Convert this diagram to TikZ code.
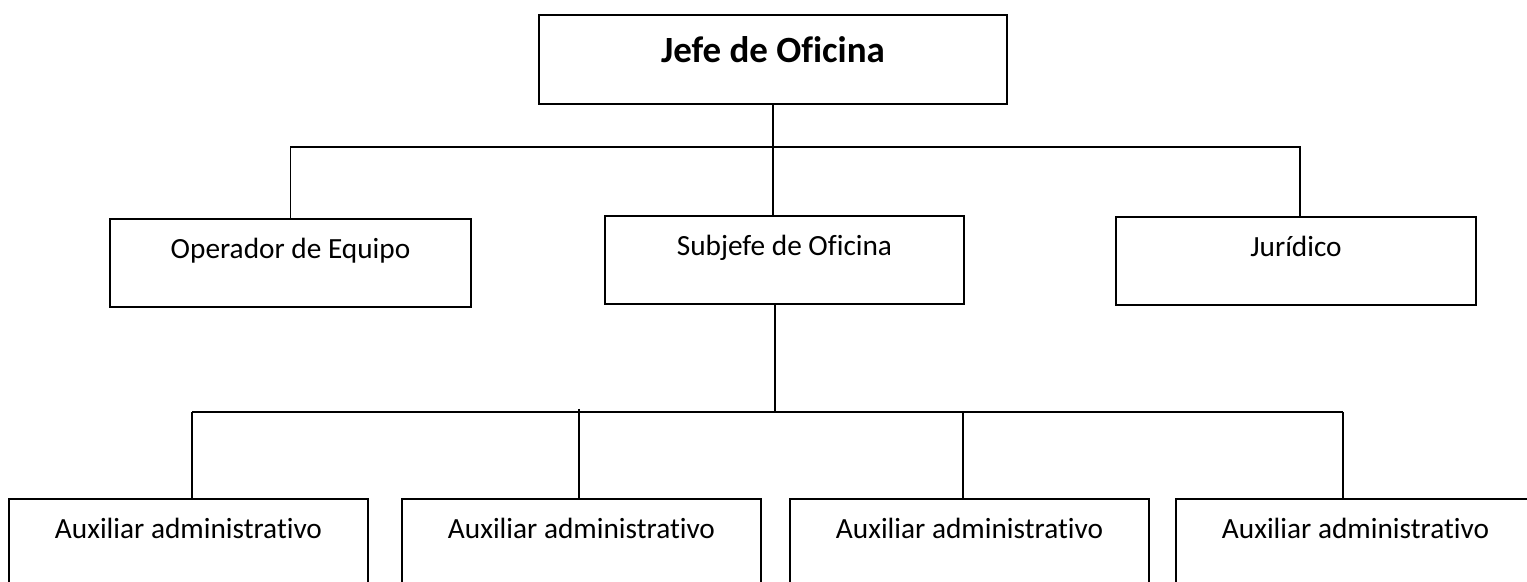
\documentclass[tikz,border=0pt]{standalone}
\usepackage{fontspec}
\setmainfont[Ligatures={NoCommon}]{Carlito}

\begin{document}
\begin{tikzpicture}[x=0.5pt,y=-0.5pt,
  box/.style={rectangle,draw,line width=1pt,inner sep=0pt,anchor=north,
    font=\fontsize{14.65}{17}\selectfont,text height=20pt,text depth=24pt},
  head/.style={box,font=\bfseries\fontsize{18.5}{22}\selectfont,text height=24pt,text depth=20.5pt},
  link/.style={draw,line width=0.65pt}]
\useasboundingbox (0,0) rectangle (1527,582);
\node [head,minimum width=234pt] (jefe) at (773,14) {Jefe de Oficina};
\node [box,minimum width=180.5pt] (operador) at (290.5,218) {Operador de Equipo};
\node [box,minimum width=179.5pt] (subjefe) at (784.5,215) {Subjefe de Oficina};
\node [box,minimum width=180pt] (juridico) at (1296,216) {Jurídico};
\foreach \x/\n in {188.5/1,581.5/2,969.5/3,1355.5/4}
  \node [box,minimum width=179.5pt] (aux\n) at (\x,498) {Auxiliar administrativo};
\coordinate (bus1) at (773,147);
\coordinate (bus2) at (775,412);
\coordinate (drop1) at (192,412);
\coordinate (drop2) at (579,409);
\coordinate (drop3) at (963,412);
\coordinate (drop4) at (1343,412);
\draw [link] (jefe.south) -- (jefe.south |- subjefe.north);
\draw [link] (operador.north) |- (bus1) -| ([xshift=2pt]juridico.north);
\draw [link] (bus2 |- subjefe.south) -- (bus2);
\draw [link] (drop1) -- (drop4);
\foreach \n in {1,...,4}
  \draw [link] (drop\n) -- (drop\n |- aux\n.north);
\end{tikzpicture}
\end{document}
